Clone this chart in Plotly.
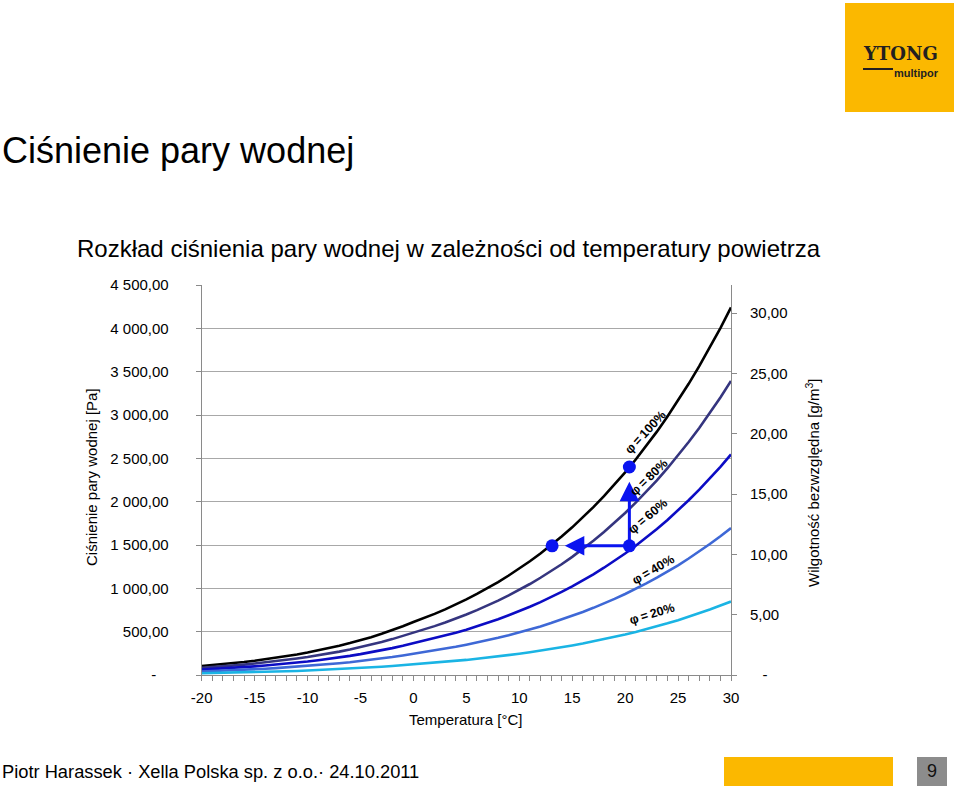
import plotly.graph_objects as go

W, H = 960, 787

# ---------------- data ----------------
temps = [-20, -19, -18, -17, -16, -15, -14, -13, -12, -11, -10, -9, -8, -7, -6, -5, -4, -3, -2, -1,
         0, 1, 2, 3, 4, 5, 6, 7, 8, 9, 10, 11, 12, 13, 14, 15, 16, 17, 18, 19, 20,
         21, 22, 23, 24, 25, 26, 27, 28, 29, 30]

p100 = [103, 113, 124, 137, 150, 165, 181, 198, 217, 237, 259, 283, 309, 338, 368, 401, 437, 476, 517, 562,
        611, 656, 705, 757, 813, 872, 935, 1001, 1072, 1148, 1227, 1312, 1402, 1497, 1598, 1704, 1817, 1937,
        2063, 2196, 2337, 2486, 2642, 2808, 2982, 3166, 3360, 3563, 3778, 4003, 4241]
p80 = [82, 90, 99, 110, 120, 132, 145, 158, 174, 190, 207, 226, 247, 270, 294, 321, 350, 381, 414, 450,
       489, 525, 564, 606, 650, 698, 748, 801, 858, 918, 982, 1050, 1122, 1198, 1278, 1363, 1454, 1550,
       1650, 1757, 1870, 1989, 2114, 2246, 2386, 2533, 2688, 2850, 3022, 3202, 3393]
p60 = [62, 68, 74, 82, 90, 99, 109, 119, 130, 142, 155, 170, 185, 203, 221, 241, 262, 286, 310, 337,
       367, 394, 423, 454, 488, 523, 561, 601, 643, 689, 736, 787, 841, 898, 959, 1022, 1090, 1162,
       1238, 1318, 1402, 1492, 1585, 1685, 1789, 1900, 2016, 2138, 2267, 2402, 2545]
p40 = [41, 45, 50, 55, 60, 66, 72, 79, 87, 95, 104, 113, 124, 135, 147, 160, 175, 190, 207, 225,
       244, 262, 282, 303, 325, 349, 374, 400, 429, 459, 491, 525, 561, 599, 639, 682, 727, 775,
       825, 878, 935, 994, 1057, 1123, 1193, 1266, 1344, 1425, 1511, 1601, 1696]
p20 = [21, 23, 25, 27, 30, 33, 36, 40, 43, 47, 52, 57, 62, 68, 74, 80, 87, 95, 103, 112,
       122, 131, 141, 151, 163, 174, 187, 200, 214, 230, 245, 262, 280, 299, 320, 341, 363, 387,
       413, 439, 467, 497, 528, 562, 596, 633, 672, 713, 756, 801, 848]

series_names = ["φ\u2009=\u2009100%", "φ\u2009=\u200980%", "φ\u2009=\u200960%", "φ\u2009=\u200940%", "φ\u2009=\u200920%"]
series_values = [p100, p80, p60, p40, p20]
series_colors = ["#000000", "#35357f", "#0c0cc4", "#3e68d6", "#1ab4e4"]

# label positions (temperature, pressure) and angles
label_t = [21.95, 22.3, 22.2, 22.6, 22.5]
label_p = [2800, 2280, 1830, 1215, 700]
label_angle = [-47, -44, -40, -30, -17]

# example points (dew point illustration)
dot_t = [20.4, 20.4, 13.1]
dot_p = [2400, 1490, 1490]
arrow_tip_t = [20.4, 14.3]
arrow_tip_p = [2230, 1490]

y_left_ticks = [0, 500, 1000, 1500, 2000, 2500, 3000, 3500, 4000, 4500]
y_left_text = ["-\u00a0\u00a0\u00a0", "500,00", "1 000,00", "1 500,00", "2 000,00", "2 500,00",
               "3 000,00", "3 500,00", "4 000,00", "4 500,00"]
y_right_ticks = [0, 5, 10, 15, 20, 25, 30]
y_right_text = ["\u00a0\u00a0\u00a0-", "5,00", "10,00", "15,00", "20,00", "25,00", "30,00"]
x_ticks = [-20, -15, -10, -5, 0, 5, 10, 15, 20, 25, 30]
x_text = ["-20", "-15", "-10", "-5", "0", "5", "10", "15", "20", "25", "30"]

# ---------------- figure ----------------
def px(x):
    return x / W

def py(y):
    return 1 - y / H

plot_l, plot_r, plot_t, plot_b = 201.7, 731.0, 285.0, 675.0

fig = go.Figure()

for name, vals, col in zip(series_names, series_values, series_colors):
    fig.add_trace(go.Scatter(x=temps, y=vals, mode="lines", name=name,
                             line=dict(color=col, width=2.6), hoverinfo="skip"))

fig.add_trace(go.Scatter(x=[temps[0]], y=[0], yaxis="y2", mode="markers",
                         marker=dict(opacity=0), hoverinfo="skip", showlegend=False))

blue = "#0a14f0"
anns = []
for tt, tp in zip(arrow_tip_t, arrow_tip_p):
    anns.append(dict(x=tt, y=tp, ax=dot_t[1], ay=dot_p[1], xref="x", yref="y", axref="x", ayref="y",
                     showarrow=True, arrowhead=2, arrowsize=1.3, arrowwidth=3, arrowcolor=blue,
                     text="", standoff=0, startstandoff=0))

fig.add_trace(go.Scatter(x=dot_t, y=dot_p, mode="markers",
                         marker=dict(size=13, color=blue), hoverinfo="skip"))

for nm, lt, lp, ang in zip(series_names, label_t, label_p, label_angle):
    anns.append(dict(x=lt, y=lp, xref="x", yref="y", text="<b>" + nm + "</b>", showarrow=False,
                     textangle=ang,
                     font=dict(family="Liberation Sans Narrow, Arial Narrow, Liberation Sans, sans-serif",
                               size=12.5, color="#000000")))

base_font = "Liberation Sans, Arial, sans-serif"

anns += [
    dict(x=px(0), y=py(150), xref="paper", yref="paper", xanchor="left", yanchor="middle",
         text="Ciśnienie pary wodnej", showarrow=False, font=dict(family=base_font, size=36, color="#000")),
    dict(x=px(449), y=py(248), xref="paper", yref="paper", xanchor="center", yanchor="middle",
         text="Rozkład ciśnienia pary wodnej w zależności od temperatury powietrza", showarrow=False,
         font=dict(family=base_font, size=24, color="#000")),
    dict(x=px(91), y=py(477), xref="paper", yref="paper", xanchor="center", yanchor="middle",
         text="Ciśnienie pary wodnej [Pa]", textangle=-90, showarrow=False,
         font=dict(family=base_font, size=15, color="#000")),
    dict(x=px(812), y=py(483), xref="paper", yref="paper", xanchor="center", yanchor="middle",
         text="Wilgotność bezwzględna [g/m<sup>3</sup>]", textangle=-90, showarrow=False,
         font=dict(family=base_font, size=15, color="#000")),
    dict(x=px(466), y=py(719), xref="paper", yref="paper", xanchor="center", yanchor="middle",
         text="Temperatura [°C]", showarrow=False, font=dict(family=base_font, size=15, color="#000")),
    dict(x=px(0), y=py(771), xref="paper", yref="paper", xanchor="left", yanchor="middle",
         text="Piotr Harassek · Xella Polska sp. z o.o.· 24.10.2011", showarrow=False,
         font=dict(family=base_font, size=18.3, color="#000")),
    dict(x=px(932), y=py(771), xref="paper", yref="paper", xanchor="center", yanchor="middle",
         text="9", showarrow=False, font=dict(family=base_font, size=18, color="#111")),
    dict(x=px(900), y=py(54), xref="paper", yref="paper", xanchor="center", yanchor="middle",
         text="<b>YTONG</b>", showarrow=False,
         font=dict(family="DejaVu Serif, serif", size=18, color="#231f20")),
    dict(x=px(916), y=py(73), xref="paper", yref="paper", xanchor="center", yanchor="middle",
         text="<b>multipor</b>", showarrow=False,
         font=dict(family="Liberation Sans, Arial, sans-serif", size=11, color="#231f20")),
]

shapes = [
    dict(type="rect", xref="paper", yref="paper", x0=px(845), x1=px(954), y0=py(112), y1=py(3),
         fillcolor="#fbb800", line=dict(width=0), layer="below"),
    dict(type="line", xref="paper", yref="paper", x0=px(863), x1=px(893), y0=py(69), y1=py(69),
         line=dict(color="#231f20", width=2)),
    dict(type="rect", xref="paper", yref="paper", x0=px(724), x1=px(893), y0=py(786), y1=py(757),
         fillcolor="#fbb800", line=dict(width=0)),
    dict(type="rect", xref="paper", yref="paper", x0=px(917), x1=px(947), y0=py(786), y1=py(757),
         fillcolor="#8c8c8c", line=dict(width=0)),
]

axis_line = "#8a8a8a"
fig.update_layout(
    template="none",
    width=W, height=H, autosize=False,
    margin=dict(l=0, r=0, t=0, b=0, pad=0, autoexpand=False),
    paper_bgcolor="white", plot_bgcolor="white",
    showlegend=False,
    font=dict(family=base_font, size=15, color="#000"),
    xaxis=dict(domain=[px(plot_l), px(plot_r)], range=[-20, 30], tickvals=x_ticks, ticktext=x_text,
               ticks="outside", ticklen=5, tickcolor=axis_line, showline=True, linecolor=axis_line,
               linewidth=1, showgrid=False, zeroline=False, ticklabelstandoff=4, automargin=False,
               minor=dict(dtick=1, tick0=-20, ticks="outside", ticklen=5, tickcolor=axis_line, showgrid=False),
               tickfont=dict(size=15)),
    yaxis=dict(domain=[py(plot_b), py(plot_t)], range=[0, 4500], tickvals=y_left_ticks,
               ticktext=y_left_text, ticks="outside", ticklen=5, tickcolor=axis_line,
               showline=True, linecolor=axis_line, linewidth=1, showgrid=True,
               gridcolor="#a8a8a8", gridwidth=1, zeroline=False, ticklabelstandoff=24, automargin=False,
               tickfont=dict(size=15)),
    yaxis2=dict(overlaying="y", side="right", anchor="x", range=[0, 32.33], tickvals=y_right_ticks,
                ticktext=y_right_text, ticks="outside", ticklen=5, tickcolor=axis_line,
                showline=True, linecolor=axis_line, linewidth=1, showgrid=False, zeroline=False,
                ticklabelstandoff=10, automargin=False, tickfont=dict(size=15)),
    annotations=anns,
    shapes=shapes,
)

fig.write_html("out.html")
